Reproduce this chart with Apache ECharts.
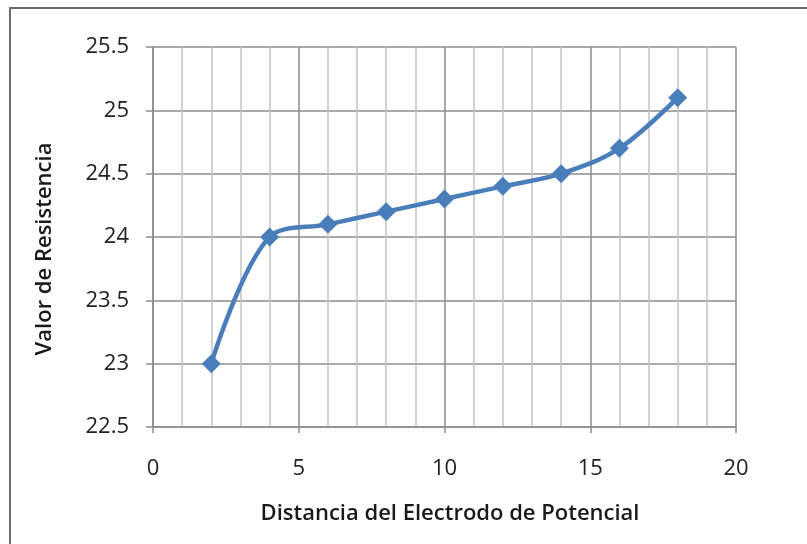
<!DOCTYPE html>
<html>
<head>
<meta charset="utf-8">
<script src="https://cdn.jsdelivr.net/npm/echarts@6/dist/echarts.min.js"></script>
<style>html,body{margin:0;padding:0;background:#fff;}#c{width:807px;height:544px;}</style>
</head>
<body>
<div id="c"></div>
<script>
const distances = [2, 4, 6, 8, 10, 12, 14, 16, 18];
const resistances = [23.0, 24.0, 24.1, 24.2, 24.3, 24.4, 24.5, 24.7, 25.1];
const xTitle = 'Distancia del Electrodo de Potencial';
const yTitle = 'Valor de Resistencia';

const chart = echarts.init(document.getElementById('c'), null, {renderer: 'canvas'});
const font = '"Open Sans", Lato, sans-serif';
chart.setOption({
  animation: false,
  backgroundColor: '#fff',
  grid: {left: 153, right: 71, top: 47, bottom: 117},
  graphic: [
    {type: 'rect', shape: {x: 10, y: 8, width: 820, height: 560},
     style: {fill: 'none', stroke: '#6b6b6b', lineWidth: 2}, silent: true, z: -1},
    {type: 'text', x: 45, y: 249, rotation: Math.PI / 2,
     style: {text: yTitle, font: '600 22px ' + font, fill: '#1a1a1a', textAlign: 'center', textVerticalAlign: 'middle'}},
    {type: 'text', x: 450, y: 514,
     style: {text: xTitle, font: '600 22px ' + font, fill: '#1a1a1a', textAlign: 'center', textVerticalAlign: 'middle'}}
  ],
  xAxis: {
    type: 'value', min: 0, max: 20, interval: 5,
    axisLine: {show: true, lineStyle: {color: '#8c8c8c', width: 1.5}},
    axisTick: {show: true, length: 6, lineStyle: {color: '#8c8c8c', width: 1.5}},
    axisLabel: {fontSize: 22, fontFamily: font, color: '#222', margin: 31},
    splitLine: {show: true, lineStyle: {color: '#8c8c8c', width: 1.5}},
    minorTick: {show: false, splitNumber: 5},
    minorSplitLine: {show: true, lineStyle: {color: '#c4c4c4', width: 1.5}}
  },
  yAxis: {
    type: 'value', min: 22.5, max: 25.5, interval: 0.5,
    axisLine: {show: true, lineStyle: {color: '#8c8c8c', width: 1.5}},
    axisTick: {show: true, length: 7, lineStyle: {color: '#8c8c8c', width: 1.5}},
    axisLabel: {fontSize: 22, fontFamily: font, color: '#222', margin: 24},
    splitLine: {show: true, lineStyle: {color: '#8c8c8c', width: 1.5}}
  },
  series: [{
    type: 'line',
    data: distances.map((d, i) => [d, resistances[i]]),
    smooth: 0.35,
    symbol: 'diamond',
    symbolSize: 19,
    itemStyle: {color: '#4a7ebb'},
    lineStyle: {color: '#4a7ebb', width: 4.5}
  }]
});
</script>
</body>
</html>
